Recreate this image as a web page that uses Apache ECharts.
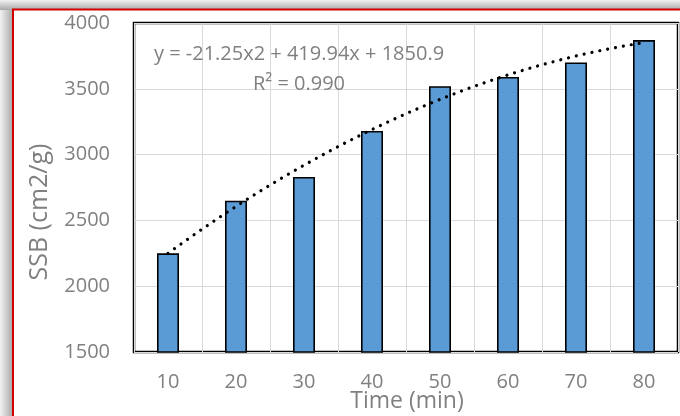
<!DOCTYPE html>
<html>
<head>
<meta charset="utf-8">
<script src="https://cdn.jsdelivr.net/npm/echarts@6/dist/echarts.min.js"></script>
<style>html,body{margin:0;padding:0;background:#fff;}#c{width:680px;height:416px;}</style>
</head>
<body>
<div id="c"></div>
<script>
var categories = ['10', '20', '30', '40', '50', '60', '70', '80'];
var ssbValues = [2250, 2650, 2830, 3180, 3520, 3590, 3700, 3870];
var yTicks = [1500, 2000, 2500, 3000, 3500, 4000];
var equationText = 'y = -21.25x2 + 419.94x + 1850.9';
var r2Text = 'R² = 0.990';
var xTitle = 'Time (min)';
var yTitle = 'SSB (cm2/g)';

// quadratic least-squares fit of the bar data (Excel-style polynomial trendline, order 2)
function quadFit(ys) {
  var n = ys.length, S = [0,0,0,0,0], T = [0,0,0];
  for (var i = 0; i < n; i++) {
    var x = i + 1, y = ys[i];
    for (var k = 0; k < 5; k++) S[k] += Math.pow(x, k);
    for (var k2 = 0; k2 < 3; k2++) T[k2] += y * Math.pow(x, k2);
  }
  var A = [[S[0],S[1],S[2],T[0]],[S[1],S[2],S[3],T[1]],[S[2],S[3],S[4],T[2]]];
  for (var c = 0; c < 3; c++) {
    for (var r = c + 1; r < 3; r++) {
      var f = A[r][c] / A[c][c];
      for (var j = c; j < 4; j++) A[r][j] -= f * A[c][j];
    }
  }
  var b = [0,0,0];
  for (var r2 = 2; r2 >= 0; r2--) {
    var s = A[r2][3];
    for (var j2 = r2 + 1; j2 < 3; j2++) s -= A[r2][j2] * b[j2];
    b[r2] = s / A[r2][r2];
  }
  return b;
}
var coef = quadFit(ssbValues);
var trend = [];
for (var t = 1; t <= 8.0001; t += 0.05) {
  trend.push([t, coef[0] + coef[1] * t + coef[2] * t * t]);
}

var gray = '#808080';
var font = 'Open Sans';
var chart = echarts.init(document.getElementById('c'), null, {renderer: 'canvas'});
chart.setOption({
  animation: false,
  backgroundColor: '#ffffff',
  textStyle: {fontFamily: font},
  graphic: [
    {type: 'rect', z: -20, shape: {x: 0, y: 0, width: 13, height: 416},
      style: {fill: new echarts.graphic.LinearGradient(0, 0, 1, 0, [{offset: 0, color: '#f2f2f2'}, {offset: 1, color: '#a8a8a8'}])}},
    {type: 'rect', z: -20, shape: {x: 0, y: 0, width: 680, height: 10},
      style: {fill: new echarts.graphic.LinearGradient(0, 0, 0, 1, [{offset: 0, color: '#f2f2f2'}, {offset: 1, color: '#a8a8a8'}])}},
    {type: 'rect', z: -19, shape: {x: 13, y: 9.5, width: 700, height: 450},
      style: {fill: '#ffffff', stroke: '#d40000', lineWidth: 2}},
    {type: 'text', z: 50, x: 407, y: 401,
      style: {text: xTitle, fill: gray, font: '23px "' + font + '"', textAlign: 'center', textVerticalAlign: 'middle'}},
    {type: 'text', z: 50, x: 40, y: 212, rotation: Math.PI / 2,
      style: {text: yTitle, fill: gray, font: '25px "' + font + '"', textAlign: 'center', textVerticalAlign: 'middle'}},
    {type: 'text', z: 50, x: 299, y: 54,
      style: {text: equationText, fill: gray, font: '20px "' + font + '"', textAlign: 'center', textVerticalAlign: 'middle'}},
    {type: 'text', z: 50, x: 299, y: 84,
      style: {text: r2Text, fill: gray, font: '20px "' + font + '"', textAlign: 'center', textVerticalAlign: 'middle'}}
  ],
  grid: {left: 134, right: 2, top: 23, bottom: 64, show: true, borderColor: '#000', borderWidth: 2.5, backgroundColor: 'transparent', containLabel: false},
  xAxis: [
    {type: 'category', data: categories, boundaryGap: true,
      axisLine: {show: false},
      axisTick: {show: false},
      axisLabel: {color: gray, fontSize: 20, fontFamily: font, margin: 20},
      splitLine: {show: true, lineStyle: {color: '#d9d9d9', width: 1}}},
    {type: 'value', min: 0.5, max: 8.5, show: false, position: 'bottom',
      axisLine: {show: false}, axisTick: {show: false}, axisLabel: {show: false}, splitLine: {show: false}}
  ],
  yAxis: {
    type: 'value', min: yTicks[0], max: yTicks[yTicks.length - 1], interval: 500,
    axisLine: {show: false}, axisTick: {show: false},
    axisLabel: {color: gray, fontSize: 20, fontFamily: font, margin: 24, formatter: function (v) { return String(v); }},
    splitLine: {show: true, lineStyle: {color: '#d9d9d9', width: 1}}
  },
  series: [
    {type: 'bar', xAxisIndex: 0, data: ssbValues, barWidth: 22,
      itemStyle: {color: '#5b9bd5', borderColor: '#000', borderWidth: 1.6}, z: 2},
    {type: 'line', xAxisIndex: 1, data: trend, showSymbol: false, symbol: 'none', smooth: false,
      lineStyle: {color: '#000', width: 3.2, type: [0.01, 8], cap: 'round'}, z: 3}
  ]
});
</script>
</body>
</html>
